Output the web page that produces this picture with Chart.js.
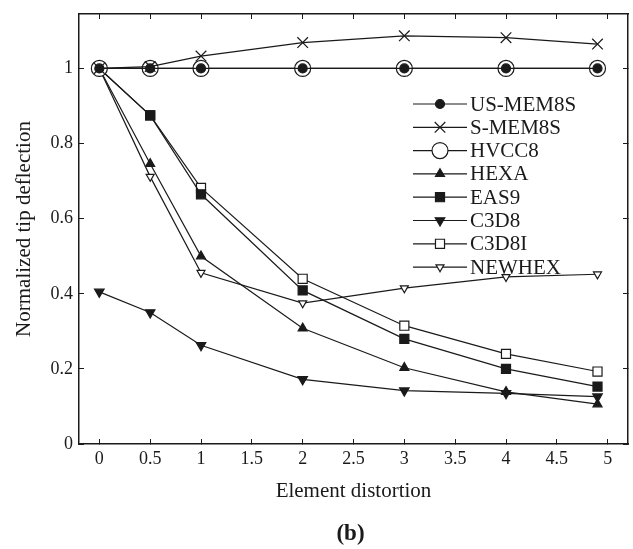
<!DOCTYPE html>
<html>
<head>
<meta charset="utf-8">
<script src="https://cdn.jsdelivr.net/npm/chart.js@4/dist/chart.umd.min.js"></script>
<style>
  html, body { margin: 0; padding: 0; background: #fff; }
  #wrap { width: 633px; height: 549px; position: relative; }
</style>
</head>
<body>
<div id="wrap"><canvas id="chart"></canvas></div>
<script>
const X_VALUES = [0, 0.5, 1, 2, 3, 4, 4.9];
const X_TICKS = [0, 0.5, 1, 1.5, 2, 2.5, 3, 3.5, 4, 4.5, 5];
const Y_TICKS = [0, 0.2, 0.4, 0.6, 0.8, 1];

const US_MEM8S = [1, 1, 1, 1, 1, 1, 1];
const S_MEM8S = [1, 1.005, 1.033, 1.069, 1.087, 1.082, 1.065];
const HVCC8 = [1, 1, 1, 1, 1, 1, 1];
const HEXA = [1, 0.746, 0.5, 0.308, 0.203, 0.139, 0.106];
const EAS9 = [1, 0.875, 0.665, 0.409, 0.28, 0.2, 0.153];
const C3D8 = [0.405, 0.35, 0.263, 0.172, 0.142, 0.135, 0.126];
const C3D8I = [1, 0.875, 0.682, 0.44, 0.315, 0.24, 0.193];
const NEWHEX = [1, 0.712, 0.456, 0.375, 0.415, 0.445, 0.452];

const FONT = '"Liberation Serif", "Times New Roman", serif';
const INK = '#1a1a1a';

function series(label, values, style, radius, fill, rotation) {
    return {
        label,
        data: X_VALUES.map((x, i) => ({ x, y: values[i] })),
        borderColor: INK,
        borderWidth: 1.2,
        pointStyle: style,
        pointRadius: radius,
        pointHoverRadius: radius,
        pointRotation: rotation || 0,
        pointBackgroundColor: fill,
        pointBorderColor: INK,
        pointBorderWidth: 1.2,
        fill: false,
        tension: 0
    };
}

const datasets = [
    series('US-MEM8S', US_MEM8S, 'circle', 4.5, INK),
    series('S-MEM8S', S_MEM8S, 'crossRot', 7.5, INK),
    series('HVCC8', HVCC8, 'circle', 8, '#fff'),
    series('HEXA', HEXA, 'triangle', 5.2, INK),
    series('EAS9', EAS9, 'rect', 6.4, INK),
    series('C3D8', C3D8, 'triangle', 5.5, INK, 180),
    series('C3D8I', C3D8I, 'rect', 6.4, '#fff'),
    series('NEWHEX', NEWHEX, 'triangle', 4.6, '#fff', 180)
];

// legend inside the plot box, plus the "(b)" caption under the axis title
const insideLegend = {
    id: 'insideLegend',
    afterDatasetsDraw(chart) {
        const ctx = chart.ctx;
        const area = chart.chartArea;
        const x0 = area.left + 334;
        const y0 = area.top + 90;
        ctx.save();
        ctx.font = '21px ' + FONT;
        ctx.textBaseline = 'middle';
        ctx.textAlign = 'left';
        chart.data.datasets.forEach((ds, i) => {
            const y = y0 + i * 23.3;
            ctx.strokeStyle = INK;
            ctx.lineWidth = 1.2;
            ctx.beginPath();
            ctx.moveTo(x0, y);
            ctx.lineTo(x0 + 54, y);
            ctx.stroke();
            ctx.fillStyle = ds.pointBackgroundColor;
            ctx.strokeStyle = INK;
            Chart.helpers.drawPoint(ctx, {
                pointStyle: ds.pointStyle,
                radius: ds.pointRadius,
                rotation: ds.pointRotation,
                borderWidth: 1.2
            }, x0 + 27, y);
            ctx.fillStyle = INK;
            ctx.fillText(ds.label, x0 + 57, y + 1);
        });
        ctx.font = 'bold 23px ' + FONT;
        ctx.textAlign = 'center';
        ctx.fillText('(b)', (area.left + area.right) / 2 - 3, 534);
        ctx.restore();
    }
};

const tickFont = { family: FONT, size: 18 };
const titleFont = { family: FONT, size: 21 };

function noPad(s) {
    s.paddingTop = 0;
    s.paddingBottom = 0;
    s.paddingLeft = 0;
    s.paddingRight = 0;
}

new Chart(document.getElementById('chart'), {
    type: 'line',
    data: { datasets },
    plugins: [insideLegend],
    options: {
        responsive: true,
        maintainAspectRatio: false,
        animation: false,
        layout: { autoPadding: false, padding: { left: 0, top: 14, right: 5, bottom: 43 } },
        plugins: { legend: { display: false }, tooltip: { enabled: false } },
        scales: {
            x: {
                type: 'linear',
                position: 'bottom',
                min: -0.2,
                max: 5.2,
                afterBuildTicks: s => { s.ticks = X_TICKS.map(v => ({ value: v })); },
                afterFit: s => { s.height = 62; noPad(s); },
                ticks: { color: INK, font: tickFont, padding: 9, maxRotation: 0, callback: v => String(v) },
                grid: { drawOnChartArea: false, tickLength: -5, color: INK, lineWidth: 1 },
                border: { display: true, color: INK, width: 1.5 },
                title: { display: true, text: 'Element distortion', color: INK, font: titleFont, padding: { top: 0, bottom: 2 } }
            },
            x2: {
                type: 'linear',
                position: 'top',
                min: -0.2,
                max: 5.2,
                afterBuildTicks: s => { s.ticks = X_TICKS.map(v => ({ value: v })); },
                afterFit: s => { s.height = 0; noPad(s); },
                ticks: { display: false },
                grid: { drawOnChartArea: false, tickLength: -5, color: INK, lineWidth: 1 },
                border: { display: true, color: INK, width: 1.5 }
            },
            y: {
                type: 'linear',
                position: 'left',
                min: 0,
                max: 1.145,
                afterBuildTicks: s => { s.ticks = Y_TICKS.map(v => ({ value: v })); },
                afterFit: s => { s.width = 79; noPad(s); },
                ticks: { color: INK, font: tickFont, padding: 11, callback: v => String(v) },
                grid: { drawOnChartArea: false, tickLength: -5, color: INK, lineWidth: 1 },
                border: { display: true, color: INK, width: 1.5 },
                title: { display: true, text: 'Normalized tip deflection', color: INK, font: titleFont, padding: { top: 12, bottom: 0 } }
            },
            y2: {
                type: 'linear',
                position: 'right',
                min: 0,
                max: 1.145,
                afterBuildTicks: s => { s.ticks = Y_TICKS.map(v => ({ value: v })); },
                afterFit: s => { s.width = 0; noPad(s); },
                ticks: { display: false },
                grid: { drawOnChartArea: false, tickLength: -5, color: INK, lineWidth: 1 },
                border: { display: true, color: INK, width: 1.5 }
            }
        }
    }
});
</script>
</body>
</html>
